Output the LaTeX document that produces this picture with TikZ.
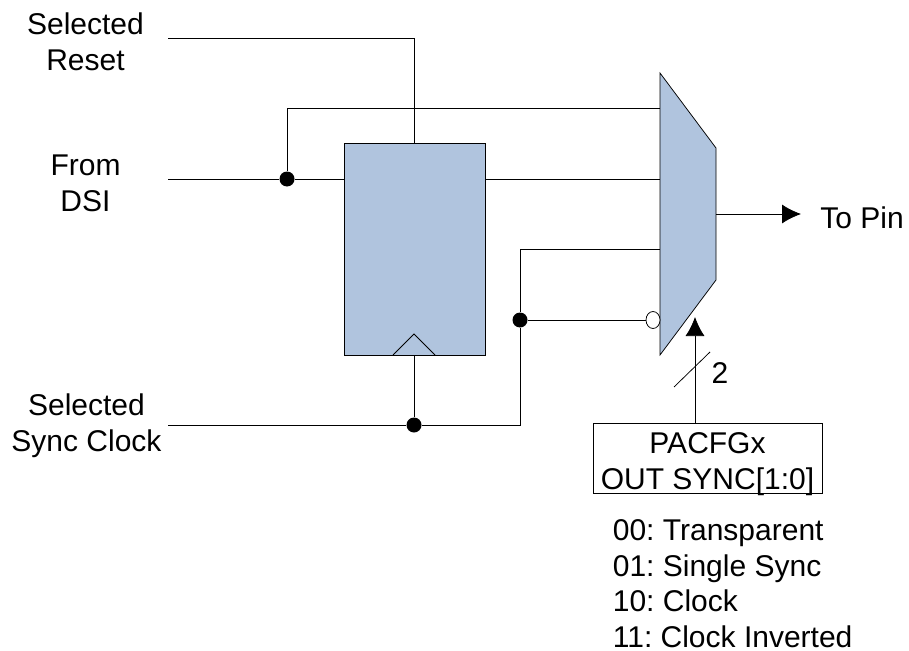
\documentclass[tikz,border=0pt]{standalone}
\usepackage{fontspec}
\setmainfont{Liberation Sans}
\usetikzlibrary{arrows.meta, positioning, calc, shapes.geometric}
\definecolor{RegBlue}{HTML}{B0C4DE}
\tikzset{
  wire/.style={line width=0.75pt},
  junction/.style={circle, fill=black, inner sep=0pt, minimum size=15pt},
  sig/.style={font=\fontsize{30}{36}\selectfont\frenchspacing, align=center, inner sep=0pt},
  bigtip/.style={-{Latex[length=19pt,width=19pt]}}
}
\begin{document}
\begin{tikzpicture}[x=1pt, y=-1pt, wire]
    \useasboundingbox (0,0) rectangle (909,650);
    % Register and mux
    \node[draw, fill=RegBlue, minimum width=141pt, minimum height=212pt, inner sep=0pt] (reg) at (414.5,249) {};
    \coordinate (ckl) at (393,355);
    \coordinate (ckt) at (414,334);
    \coordinate (ckr) at (435,355);
    \draw (ckl) -- (ckt) -- (ckr);
    \draw[fill=RegBlue] (660,73) -- (716,148) -- (716,280) -- (660,355) -- cycle;

    % Labels
    \node[sig] (reset) at (85.5,42) {Selected\\Reset};
    \node[sig] (dsi) at (85.5,183) {From\\DSI};
    \node[sig] (clock) at (86.5,426) {Selected\\Sync Clock};
    \node[sig, anchor=west] (pin) at (820,218) {To Pin};
    \node[draw, minimum width=229pt, minimum height=70pt, inner sep=0pt] (cfg) at (707.5,458) {};
    \node[sig] (cfgtext) at (707.5,464) {PACFGx\\OUT SYNC[1:0]};
    \node[sig, font=\fontsize{30}{35.5}\selectfont\frenchspacing, align=left, anchor=west] (codes) at (612.5,583.5) {00: Transparent\\01: Single Sync\\10: Clock\\11: Clock Inverted};
    \node[sig] (two) at (720,373) {2};

    % Junctions
    \node[junction] (jd) at (287,179) {};
    \node[junction] (jc) at (414,425) {};
    \node[junction] (ji) at (520,320) {};
    \node[ellipse, draw, fill=white, inner sep=0pt, minimum width=14pt, minimum height=17pt] (inv) at (653,320) {};

    % Free ends
    \coordinate (rst) at (168,38);
    \coordinate (din) at (168,179);
    \coordinate (clk) at (168,425);
    \coordinate (mt) at (660,108);
    \coordinate (mm) at (660,179);
    \coordinate (mb) at (660,249);
    \coordinate (mo) at (716,214);
    \coordinate (oe) at (801,214);
    \coordinate (se) at (695,317);
    \coordinate (sa) at (674,387);
    \coordinate (sb) at (710,352);

    % Connections
    \draw (rst) -| (reg.north);
    \draw (din) -- (jd) -- (reg.west |- jd);
    \draw (jd) |- (mt);
    \draw (reg.east |- mm) -- (mm);
    \draw (clk) -- (jc) -- (ji |- jc) -- (ji) |- (mb);
    \draw (jc) -- (reg.south -| jc);
    \draw (ji) -- (inv);
    \draw[bigtip] (mo) -- (oe);
    \draw[bigtip] (cfg.north -| se) -- (se);
    \draw (sa) -- (sb);
\end{tikzpicture}
\end{document}
